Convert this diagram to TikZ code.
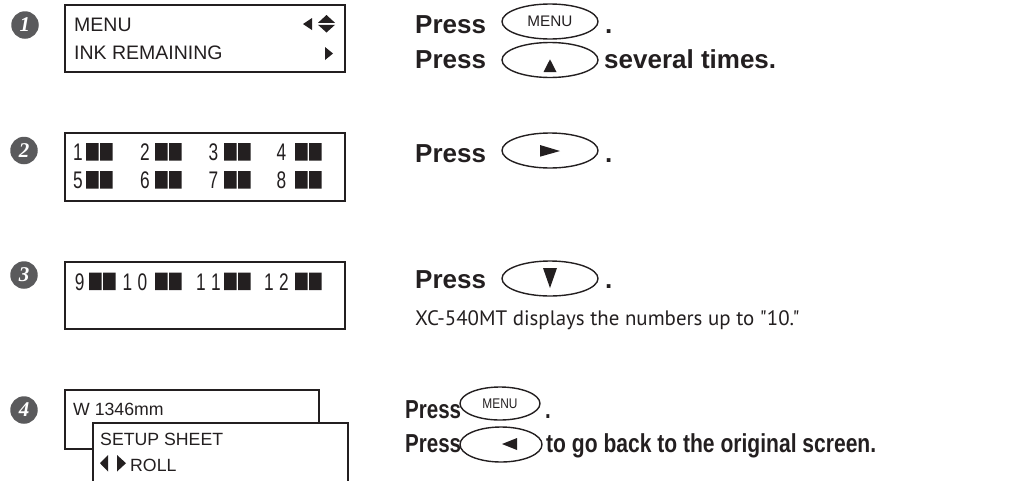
\documentclass[tikz,border=0pt]{standalone}
\usepackage{fontspec}
\setmainfont{Liberation Sans}
\newfontfamily\notefont{PT Sans}
\newfontfamily\badgefont{Liberation Serif}
\usetikzlibrary{shapes.geometric}

\definecolor{ink}{HTML}{231F20}
\definecolor{badgegray}{HTML}{5A5A5C}

\newcommand\lcdfont{\fontsize{19.5}{20}\selectfont}
\newcommand\lcdsmall{\fontsize{17.7}{18}\selectfont}
\newcommand\pressfont{\fontsize{26}{26}\selectfont\bfseries}
\newcommand\keyfont{\fontsize{15.3}{16}\selectfont}
\newcommand\narrowtext[1]{\scalebox{0.79}[1]{#1}}
\newcommand\dg[1]{\scalebox{0.72}[1]{\fontsize{24}{24}\selectfont #1}}
% two ink bars of one LCD cell, top left corner at (#1,#2)
\newcommand\inkcell[2]{\fill[ink] (#1,#2) rectangle ++(12.7,17.5) (#1+14,#2) rectangle ++(12.7,17.5);}

\begin{document}
\begin{tikzpicture}[x=1pt, y=-1pt,
    badge/.style={circle, fill=badgegray, text=white, minimum size=27.5pt, inner sep=0pt,
      font=\badgefont\fontsize{21}{21}\selectfont\bfseries\itshape},
    lcd/.style={draw=ink, line width=2pt, fill=white},
    lcdtext/.style={anchor=base west, inner sep=0pt, text=ink},
    dgt/.style={anchor=base, inner sep=0pt, text=ink},
    press/.style={anchor=base west, inner sep=0pt, text=ink, font=\pressfont},
    note/.style={anchor=base west, inner sep=0pt, text=ink, font=\notefont\fontsize{20.9}{21}\selectfont},
    key/.style={ellipse, draw=ink, line width=1.4pt, minimum width=96pt, minimum height=35pt,
      inner sep=0pt, text=ink, font=\keyfont}]
    \clip (0,0) rectangle (1036,480);

    % step badges
    \node[badge] (s1) at (25,25) {1};
    \node[badge] (s2) at (24,150.5) {2};
    \node[badge] (s3) at (24,275) {3};
    \node[badge] (s4) at (24,410) {4};

    % step 1
    \draw[lcd] (65,5) rectangle (345,72);
    \node[lcdtext, font=\lcdfont] (menu1) at (74,31) {MENU};
    \node[lcdtext, font=\lcdfont] (inkrem) at (74,59.5) {INK REMAINING};
    \fill[ink] (312,18) -- (312,30) -- (303,24) -- cycle;
    \fill[ink] (318,22.8) -- (335,22.8) -- (326.5,15) -- cycle;
    \fill[ink] (318,24.8) -- (335,24.8) -- (326.5,32.5) -- cycle;
    \fill[ink] (325,47) -- (325,60) -- (333,53.5) -- cycle;

    \node[press] (p1a) at (415,33) {Press};
    \node[key] (k1a) at (550,21.5) {MENU};
    \node[press] (d1a) at (605,33) {.};
    \node[press] (p1b) at (415,68) {Press};
    \node[key] (k1b) at (550,60) {};
    \fill[ink] ([shift={(-6.5,12)}]k1b.center) -- ([shift={(6.5,12)}]k1b.center)
      -- ([shift={(0,-0.7)}]k1b.center) -- cycle;
    \node[press] (t1b) at (604,68) {several times.};

    % step 2
    \draw[lcd] (65,133) rectangle (345,201);
    \foreach \a/\b/\x/\c in {1/5/78/86, 2/6/145/155, 3/7/213.5/224, 4/8/281.5/295} {
      \node[dgt] (c\a) at (\x,160.5) {\dg{\a}};
      \node[dgt] (c\b) at (\x,188.5) {\dg{\b}};
      \inkcell{\c}{143}
      \inkcell{\c}{171}
    }

    \node[press] (p2) at (415,162) {Press};
    \node[key] (k2) at (550,150.5) {};
    \fill[ink] ([shift={(-10,-5.5)}]k2.center) -- ([shift={(-10,6.2)}]k2.center)
      -- ([shift={(10,0.5)}]k2.center) -- cycle;
    \node[press] (d2) at (605,162) {.};

    % step 3
    \draw[lcd] (65,262) rectangle (345,329);
    \foreach \n/\x in {9/79.7, 1/127.5, 0/142.5, 1/201, 1/216, 1/269, 2/284}
      {\node[dgt] (e\n) at (\x,290) {\dg{\n}};}
    \foreach \c in {89, 155, 224, 295}
      {\inkcell{\c}{272.5}}

    \node[press] (p3) at (415,288) {Press};
    \node[key] (k3) at (550,278.5) {};
    \fill[ink] ([shift={(-7,-10.5)}]k3.center) -- ([shift={(7,-10.5)}]k3.center)
      -- ([shift={(0,9.5)}]k3.center) -- cycle;
    \node[press] (d3) at (605,288) {.};
    \node[note] (n3) at (415,325) {XC-540MT displays the numbers up to "10."};

    % step 4
    \draw[lcd] (65,390) rectangle (319,449);
    \node[lcdtext, font=\lcdsmall] (width4) at (73,415) {W 1346mm};
    \draw[lcd] (93,422.7) rectangle (348,495);
    \node[lcdtext, font=\lcdsmall] (setup4) at (100,445) {SETUP SHEET};
    \fill[ink] (108,455) -- (108,471.5) -- (100,463.2) -- cycle;
    \fill[ink] (117,455) -- (117,471.5) -- (126,463.2) -- cycle;
    \node[lcdtext, font=\lcdsmall] (roll4) at (130,471.7) {ROLL};

    \node[press] (p4a) at (405,418) {\narrowtext{Press}};
    \node[key, minimum width=80pt, minimum height=33pt] (k4a) at (500,403.5)
      {\scalebox{0.85}[1]{\fontsize{14}{14}\selectfont MENU}};
    \node[press] (d4a) at (545,418) {\narrowtext{.}};
    \node[press] (p4b) at (405,452) {\narrowtext{Press}};
    \node[key, minimum width=82pt] (k4b) at (501,444.5) {};
    \fill[ink] ([shift={(16,-6.5)}]k4b.center) -- ([shift={(16,5.5)}]k4b.center)
      -- ([shift={(1,-0.5)}]k4b.center) -- cycle;
    \node[press] (t4b) at (546,452) {\scalebox{0.81}[1]{to go back to the original screen.}};
\end{tikzpicture}
\end{document}
